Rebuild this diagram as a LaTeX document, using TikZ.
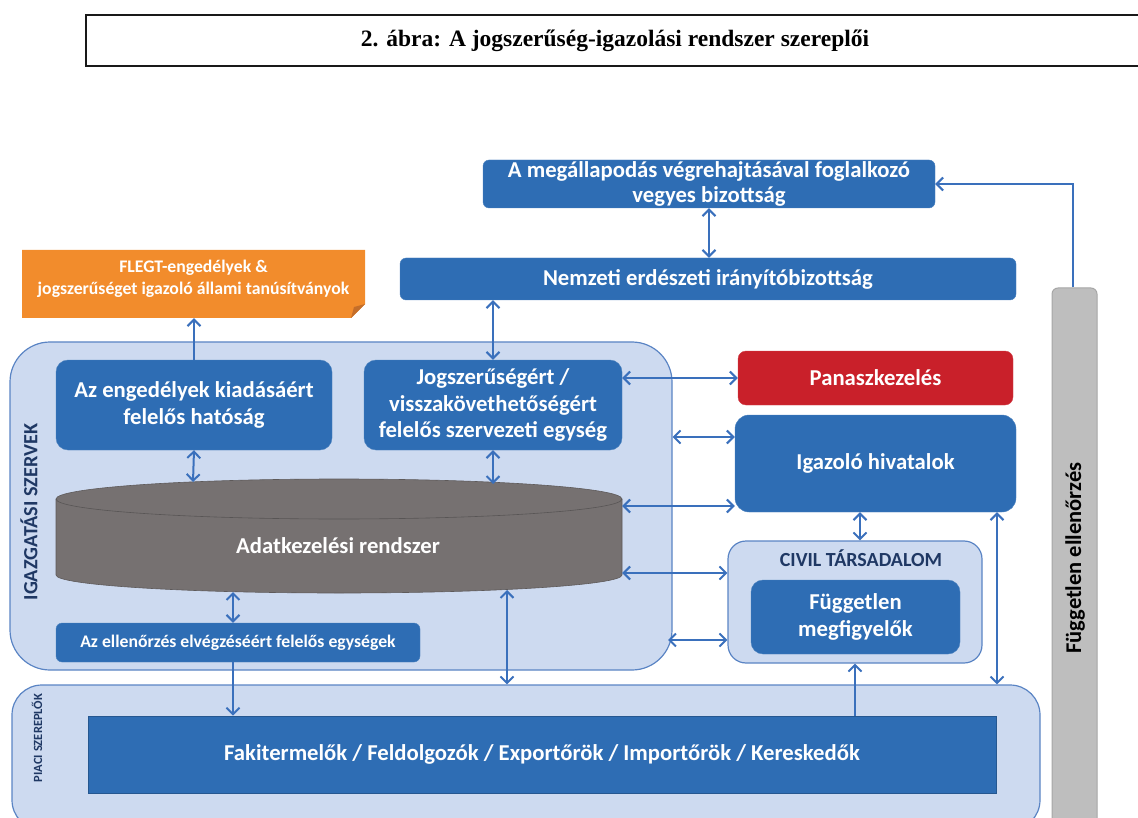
\documentclass[tikz,border=0pt]{standalone}
\usepackage{fontspec}
\setmainfont{Carlito}
\newfontfamily\titlefont{Liberation Serif}
\usetikzlibrary{arrows.meta}
\definecolor{boxblue}{HTML}{2E6DB4}
\definecolor{lightblue}{HTML}{CDDAF0}
\definecolor{contborder}{HTML}{5A84C4}
\definecolor{arrowblue}{HTML}{3A70BC}
\definecolor{navy}{HTML}{1F3864}
\definecolor{redbox}{HTML}{C9202A}
\definecolor{orangebox}{HTML}{F28C2C}
\definecolor{orangefold}{HTML}{C46E2A}
\definecolor{cylgray}{HTML}{767171}
\definecolor{barfill}{HTML}{BEBEBE}
\definecolor{barborder}{HTML}{A6A6A6}
\begin{document}
\begin{tikzpicture}[x=1pt,y=-1pt,
  bluebox/.style={fill=boxblue, draw=boxblue!85!white, text=white,
    font=\bfseries\fontsize{22.7}{26.5}\selectfont, align=center, inner sep=0pt, rounded corners=10pt},
  container/.style={fill=lightblue, draw=contborder, line width=1.2pt, inner sep=0pt},
  conn/.style={draw=arrowblue, line width=2pt},
  dbl/.style={conn, {Straight Barb[length=6.5pt,width=13pt]}-{Straight Barb[length=6.5pt,width=13pt]}},
  sgl/.style={conn, -{Straight Barb[length=6.5pt,width=13pt]}},
  sidelabel/.style={rotate=90, font=\bfseries, text=navy, inner sep=0pt}]
\useasboundingbox (0,0) rectangle (1138,818);

% title
\node[draw=black!90, line width=2.2pt, minimum width=1064pt, minimum height=51pt, inner sep=0pt,
  font=\titlefont\bfseries\fontsize{23.5}{26}\selectfont] (title) at (618,40.5)
  {\hspace*{-3pt}2. ábra: A jogszerűség-igazolási rendszer szereplői\hspace*{3pt}};

% containers
\node[container, rounded corners=40pt, minimum width=662pt, minimum height=328pt] (igazg) at (341,506) {};
\node[container, rounded corners=30pt, minimum width=1028pt, minimum height=145pt] (piaci) at (526,757.5) {};
\node[container, rounded corners=18pt, minimum width=254pt, minimum height=122pt] (civil) at (855,602) {};
\node[fill=barfill, draw=barborder, line width=1pt, rounded corners=6pt, minimum width=45pt,
  minimum height=542pt, inner sep=0pt] (gray) at (1074.5,559) {};

% side labels
\node[sidelabel, font=\bfseries\fontsize{20.2}{22}\selectfont] (lblig) at (29,512) {IGAZGATÁSI SZERVEK};
\node[sidelabel, font=\bfseries\fontsize{12.5}{14}\selectfont] (lblpi) at (37,738) {PIACI SZEREPLŐK};
\node[sidelabel, text=black, font=\bfseries\fontsize{22.5}{24}\selectfont] (lblfe) at (1075,558) {Független ellenőrzés};
\node[font=\bfseries\fontsize{20}{22}\selectfont, text=navy, inner sep=0pt] (lblcivil) at (861,558) {CIVIL TÁRSADALOM};

% FLEGT folded note
\fill[orangebox] (22,250) -- (365,250) -- (365,304) -- (351,318) -- (22,318) -- cycle;
\fill[orangefold] (365,304) -- (351,318) -- (354,307) -- cycle;
\node[minimum width=343pt, minimum height=68pt, inner sep=0pt] (flegt) at (193.5,284) {};
\node[text=white, align=center, inner sep=0pt, font=\bfseries\fontsize{17.7}{22}\selectfont] (flegttext) at (193.5,279)
  {FLEGT-engedélyek \&\\jogszerűséget igazoló állami tanúsítványok};

% boxes
\node[bluebox, rounded corners=6pt, minimum width=452pt, minimum height=48pt, font=\bfseries\fontsize{22.7}{25}\selectfont] (joint) at (709,184)
  {A megállapodás végrehajtásával foglalkozó\\vegyes bizottság};
\node[bluebox, rounded corners=6pt, minimum width=616pt, minimum height=42pt] (nemzeti) at (708,279)
  {Nemzeti erdészeti irányítóbizottság};
\node[bluebox, rounded corners=12pt, minimum width=276pt, minimum height=90pt] (engedely) at (194,405)
  {Az engedélyek kiadásáért\\felelős hatóság};
\node[bluebox, rounded corners=12pt, minimum width=258pt, minimum height=90pt] (jogsz) at (493,405)
  {Jogszerűségért /\\visszakövethetőségért\\felelős szervezeti egység};
\node[bluebox, fill=redbox, draw=redbox!85!white, rounded corners=8pt, minimum width=275pt, minimum height=54pt] (panasz) at (875.5,378)
  {Panaszkezelés};
\node[bluebox, rounded corners=14pt, minimum width=281pt, minimum height=97pt] (igazolo) at (875.5,463.5)
  {Igazoló hivatalok};
\node[bluebox, rounded corners=12pt, minimum width=209pt, minimum height=74pt] (fugg) at (855.5,617)
  {Független\\megfigyelők};
\node[bluebox, rounded corners=6pt, minimum width=364pt, minimum height=39pt, font=\bfseries\fontsize{17.7}{20}\selectfont] (ellen) at (238,642.5)
  {Az ellenőrzés elvégzéséért felelős egységek};
\node[bluebox, rounded corners=0pt, draw=boxblue!80!black, line width=0.8pt, minimum width=908pt, minimum height=77pt] (fakit) at (542,754.5)
  {Fakitermelők / Feldolgozók / Exportőrök / Importőrök / Kereskedők};

% cylinder
\filldraw[fill=cylgray, draw=cylgray!80!black, line width=0.6pt]
  (56,499) -- (56,575) arc[start angle=180, end angle=360, x radius=283pt, y radius=18pt]
  -- (622,499) arc[start angle=0, end angle=180, x radius=283pt, y radius=20pt] -- cycle;
\draw[cylgray!75!black, line width=0.6pt]
  (56,499) arc[start angle=180, end angle=360, x radius=283pt, y radius=20pt];
\node[minimum width=566pt, minimum height=110pt, inner sep=0pt] (cyl) at (339,536) {};
\node[text=white, font=\bfseries\fontsize{22.7}{26}\selectfont, inner sep=0pt] (cyltext) at (338,546) {Adatkezelési rendszer};

% helper coordinates
\coordinate (x233) at (233,0);
\coordinate (x507) at (507,590);
\coordinate (x860) at (860,0);
\coordinate (x997) at (997,0);
\coordinate (y437) at (0,437);
\coordinate (y506) at (0,506);
\coordinate (y573) at (0,573);
\coordinate (c640) at (668,640);
\coordinate (cyltopA) at (193,482);
\coordinate (cyltopB) at (493,484);
\coordinate (cylbotA) at (233,592);

% connectors
\draw[dbl] (joint.south) -- (joint.south |- nemzeti.north);
\draw[sgl] (gray.north -| 1073,0) |- (joint.east);
\draw[sgl] (engedely.north) -- (engedely.north |- flegt.south);
\draw[dbl] (jogsz.north) -- (jogsz.north |- nemzeti.south);
\draw[dbl] (engedely.south) -- (cyltopA);
\draw[dbl] (jogsz.south) -- (cyltopB);
\draw[dbl] (jogsz.east |- panasz.west) -- (panasz.west);
\draw[dbl] (igazg.east |- y437) -- (igazolo.west |- y437);
\draw[dbl] (cyl.east |- y506) -- (igazolo.west |- y506);
\draw[dbl] (cyl.east |- y573) -- (civil.west |- y573);
\draw[dbl] (c640) -- (civil.west |- c640);
\draw[dbl] (igazolo.south -| x860) -- (civil.north -| x860);
\draw[dbl] (igazolo.south -| x997) -- (piaci.north -| x997);
\draw[sgl] (fakit.north -| civil.south) -- (civil.south);
\draw[dbl] (cylbotA) -- (ellen.north -| x233);
\draw[sgl] (ellen.south -| x233) -- (fakit.north -| x233);
\draw[dbl] (x507) -- (piaci.north -| x507);
\end{tikzpicture}
\end{document}
